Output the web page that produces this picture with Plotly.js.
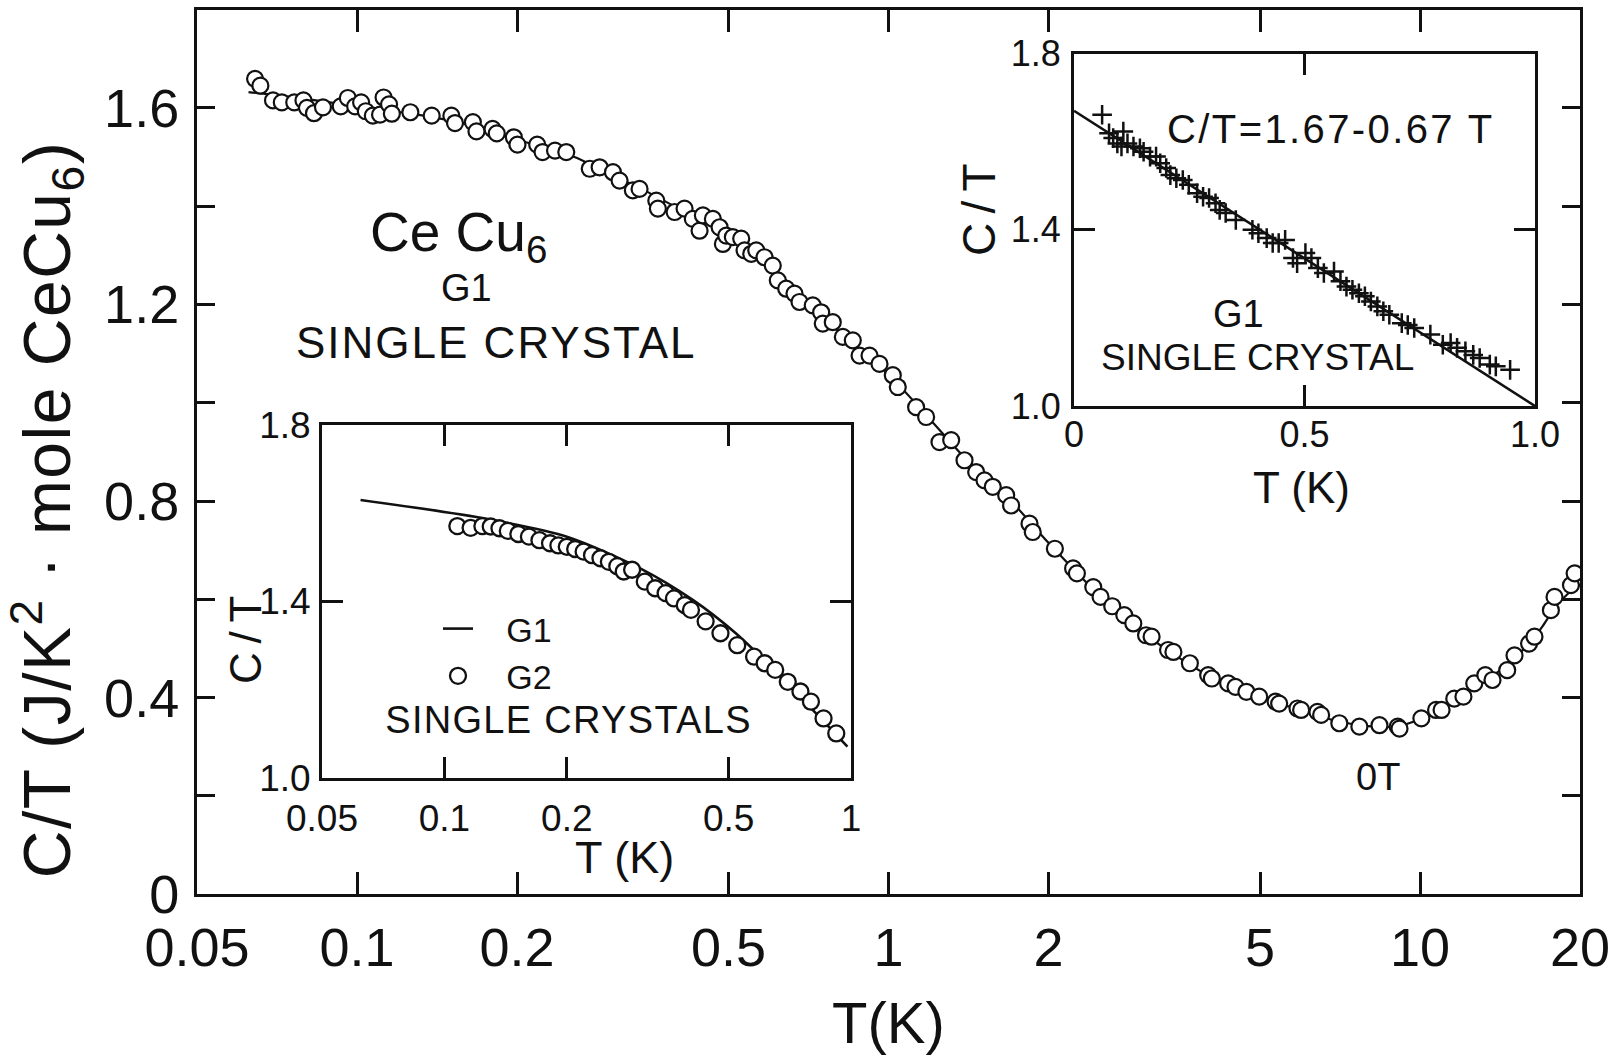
<!DOCTYPE html>
<html>
<head>
<meta charset="utf-8">
<script src="https://cdn.plot.ly/plotly-3.0.1.min.js"></script>
<style>
html,body{margin:0;padding:0;background:#fff;overflow:hidden}
g.annotation[data-index="0"] text{letter-spacing:1.5px}
g.annotation[data-index="4"] text{letter-spacing:2px}
g.annotation[data-index="7"] text{letter-spacing:1.3px}
g.annotation[data-index="10"] text{letter-spacing:2.4px}
</style>
</head>
<body>
<div id="chart" style="width:1622px;height:1061px"></div>
<script>
// ---------------- DATA ----------------
// Main panel: CeCu6 G1 single crystal, C/T vs T (log T)
const mainT = [0.0643,0.0658,0.0695,0.0722,0.0762,0.0793,0.0805,0.0830,0.0863,0.0932,0.0961,0.0992,0.1018,0.1039,0.1071,0.1105,0.1122,0.1149,0.1163,0.126,0.1382,0.1505,0.1529,0.1652,0.1678,0.1799,0.1832,0.1973,0.2004,0.2183,0.2234,0.2358,
  0.2476,0.2741,0.2861,0.3031,0.3119,0.3304,0.3401,0.3657,0.3682,0.3959,0.4133,0.4284,0.4411,0.4475,0.4673,0.4811,0.4880,0.4951,0.5095,0.5283,0.5360,0.5518,0.5639,0.5844,0.6057,0.6190,0.6420,0.6655,0.6801,0.7203,0.7470,0.7522,0.7855,0.8206,0.8567,0.8822,0.9211,0.9618,1.0188,1.041,1.127,1.177,1.247,1.312,1.390,1.462,1.516,1.571,1.665,1.701,1.842,1.868,2.056,2.225,2.262,2.428,2.506,
  2.636,2.777,2.888,3.052,3.126,3.357,3.436,3.690,3.994,4.058,4.356,4.496,4.714,4.983,5.349,5.433,5.882,5.975,6.412,6.516,7.050,7.691,8.390,9.080,9.150,10.06,10.72,10.98,11.60,12.07,12.65,13.27,13.69,14.59,15.06,16.04,16.42,17.63,17.91,19.23,19.54];
const mainCT = [1.659,1.645,1.615,1.611,1.611,1.615,1.600,1.589,1.601,1.603,1.620,1.603,1.611,1.593,1.584,1.586,1.621,1.607,1.588,1.591,1.584,1.584,1.569,1.571,1.552,1.557,1.548,1.540,1.525,1.525,1.510,1.513,
  1.510,1.476,1.479,1.469,1.452,1.432,1.435,1.411,1.395,1.388,1.395,1.374,1.350,1.381,1.374,1.357,1.323,1.340,1.337,1.334,1.310,1.303,1.310,1.296,1.279,1.249,1.232,1.222,1.205,1.198,1.184,1.161,1.164,1.134,1.127,1.096,1.096,1.079,1.056,1.032,0.991,0.971,0.920,0.924,0.883,0.859,0.842,0.829,0.812,0.791,0.754,0.737,0.703,0.663,0.653,0.625,0.605,
  0.586,0.568,0.551,0.527,0.524,0.497,0.493,0.470,0.446,0.439,0.429,0.422,0.412,0.402,0.392,0.388,0.378,0.375,0.371,0.365,0.348,0.341,0.344,0.341,0.337,0.358,0.375,0.375,0.398,0.402,0.429,0.446,0.436,0.456,0.486,0.510,0.524,0.578,0.605,0.629,0.653];
const mainLineT = [0.0625,0.08,0.1,0.13,0.16,0.2,0.25,0.3,0.35,0.4,0.45,0.5,0.6,0.7,0.8,0.9,1.0,1.2,1.4,1.7,2.0,2.5,3.0,3.5,4.0,5.0,6.0,7.0,8.0,9.0,10,11,12,13,14,15,16,17,18,19,20];
const mainLineCT = [1.632,1.618,1.603,1.586,1.567,1.535,1.505,1.465,1.430,1.397,1.370,1.338,1.280,1.205,1.148,1.100,1.058,0.965,0.885,0.800,0.715,0.607,0.534,0.483,0.445,0.401,0.374,0.352,0.342,0.341,0.356,0.378,0.403,0.432,0.452,0.480,0.508,0.545,0.585,0.612,0.630];

// Lower-left inset: G1 (line) and G2 (circles), log T
const g1T = [0.0622,0.124,0.2,0.303,0.409,0.519,0.658,0.835,0.98];
const g1CT = [1.630,1.589,1.547,1.475,1.403,1.329,1.238,1.139,1.071];
const g2T = [0.1076,0.116,0.124,0.130,0.1366,0.1432,0.152,0.1614,0.1713,0.1819,0.1907,0.2,0.2097,0.22,0.2307,0.242,0.2538,0.2662,0.2761,0.2895,0.311,0.330,0.350,0.367,0.390,0.404,0.439,0.4775,0.5251,0.5776,0.6134,0.651,0.699,0.751,0.797,0.856,0.920];
const g2CT = [1.571,1.567,1.571,1.570,1.566,1.560,1.553,1.547,1.539,1.532,1.527,1.524,1.519,1.513,1.505,1.498,1.490,1.480,1.468,1.472,1.445,1.430,1.419,1.407,1.392,1.381,1.355,1.328,1.301,1.275,1.260,1.245,1.218,1.196,1.173,1.135,1.101];

// Upper-right inset: G1 single crystal, linear T, fit C/T = 1.67 - 0.67 T
const linT = [0.061,0.076,0.085,0.094,0.103,0.107,0.116,0.129,0.143,0.151,0.165,0.178,0.187,0.200,0.209,0.222,0.236,0.249,0.267,0.280,0.293,0.307,0.316,0.329,0.351,0.387,0.400,0.418,0.431,0.444,0.458,0.475,0.484,0.502,0.515,0.529,0.542,0.564,0.578,0.591,0.604,0.618,0.631,0.644,0.658,0.671,0.684,0.711,0.724,0.738,0.773,0.800,0.817,0.831,0.849,0.866,0.880,0.902,0.915,0.946];
const linCT = [1.661,1.619,1.608,1.596,1.589,1.623,1.596,1.589,1.585,1.577,1.566,1.566,1.551,1.540,1.524,1.517,1.513,1.502,1.483,1.475,1.472,1.460,1.445,1.438,1.422,1.400,1.392,1.381,1.370,1.370,1.377,1.336,1.324,1.347,1.336,1.313,1.302,1.305,1.283,1.271,1.264,1.256,1.249,1.237,1.226,1.215,1.207,1.188,1.184,1.177,1.162,1.139,1.143,1.132,1.124,1.116,1.109,1.094,1.090,1.082];
const fitT = [0, 1.0];
const fitCT = [1.67, 1.00];

// Ticks
const mainXTicks = [0.05,0.1,0.2,0.5,1,2,5,10,20];
const mainXLabels = ['0.05','0.1','0.2','0.5','1','2','5','10','20'];
const mainYTicks = [0,0.4,0.8,1.2,1.6];
const mainYLabels = ['0','0.4','0.8','1.2','1.6'];
const mainYMinor = [0.2,0.6,1.0,1.4];
const inset1XTicks = [0.05,0.1,0.2,0.5,1];
const inset1XLabels = ['0.05','0.1','0.2','0.5','1'];
const insetYTicks = [1.0,1.4,1.8];
const insetYLabels = ['1.0','1.4','1.8'];
const inset2XTicks = [0,0.5,1.0];
const inset2XLabels = ['0','0.5','1.0'];

// ---------------- LAYOUT ----------------
const W = 1622, H = 1061;
const fx = v => v / W;          // pixel -> paper x
const fy = v => 1 - v / H;      // pixel -> paper y
const FONT = '"Liberation Sans", Arial, sans-serif';
const INK = '#111111';

function axisBase(extra) {
  return Object.assign({
    showline: true, linewidth: 3, linecolor: INK, mirror: 'ticks',
    ticks: 'inside', tickwidth: 3, tickcolor: INK,
    showgrid: false, zeroline: false, tickmode: 'array', fixedrange: true
  }, extra);
}

const traces = [
  {x: mainLineT, y: mainLineCT, xaxis: 'x', yaxis: 'y', mode: 'lines', showlegend: false,
   line: {color: INK, width: 2.2, shape: 'spline', smoothing: 0.8}},
  {x: mainT, y: mainCT, xaxis: 'x', yaxis: 'y', mode: 'markers', showlegend: false,
   marker: {symbol: 'circle', size: 16, color: 'white', line: {color: INK, width: 2.2}}},
  {x: g1T, y: g1CT, xaxis: 'x2', yaxis: 'y2', mode: 'lines', name: '\u00a0\u00a0\u00a0G1', showlegend: true,
   line: {color: INK, width: 2.6, shape: 'spline', smoothing: 0.8}},
  {x: g2T, y: g2CT, xaxis: 'x2', yaxis: 'y2', mode: 'markers', name: '\u00a0\u00a0\u00a0G2', showlegend: true,
   marker: {symbol: 'circle', size: 16, color: 'white', line: {color: INK, width: 2.3}}},
  {x: fitT, y: fitCT, xaxis: 'x3', yaxis: 'y3', mode: 'lines', showlegend: false,
   line: {color: INK, width: 2.6}},
  {x: linT, y: linCT, xaxis: 'x3', yaxis: 'y3', mode: 'markers', showlegend: false,
   marker: {symbol: 'cross-thin-open', size: 14, color: INK, line: {color: INK, width: 2.5}}}
];

function ann(text, x, y, size, extra) {
  return Object.assign({text: text, x: fx(x), y: fy(y), xref: 'paper', yref: 'paper',
    xanchor: 'center', yanchor: 'middle', showarrow: false,
    font: {family: FONT, size: size, color: INK}}, extra || {});
}

const layout = {
  width: W, height: H,
  margin: {l: 0, r: 0, t: 0, b: 0, pad: 0},
  paper_bgcolor: 'white', plot_bgcolor: 'white',
  font: {family: FONT, color: INK},
  xaxis: axisBase({type: 'log', domain: [fx(197), fx(1580)], anchor: 'y',
    range: [Math.log10(0.05), Math.log10(20)], ticklen: 22,
    tickvals: mainXTicks, ticktext: mainXLabels, ticklabelstandoff: 4,
    tickfont: {family: FONT, size: 54, color: INK}}),
  yaxis: axisBase({domain: [fy(894.3), fy(9.5)], anchor: 'x', range: [0, 1.8], ticklen: 18,
    tickvals: mainYTicks, ticktext: mainYLabels, ticklabelstandoff: 4,
    minor: {tickvals: mainYMinor, ticks: 'inside', ticklen: 18, tickwidth: 3, tickcolor: INK, showgrid: false},
    tickfont: {family: FONT, size: 54, color: INK}}),
  xaxis2: axisBase({type: 'log', domain: [fx(322), fx(851)], anchor: 'y2',
    range: [Math.log10(0.05), 0], ticklen: 21,
    tickvals: inset1XTicks, ticktext: inset1XLabels, ticklabelstandoff: 6,
    tickfont: {family: FONT, size: 37, color: INK}}),
  yaxis2: axisBase({domain: [fy(778), fy(425)], anchor: 'x2', range: [1.0, 1.8], ticklen: 21,
    tickvals: insetYTicks, ticktext: insetYLabels, ticklabelstandoff: 1,
    tickfont: {family: FONT, size: 37, color: INK}}),
  xaxis3: axisBase({domain: [fx(1074), fx(1535)], anchor: 'y3', range: [0, 1.0], ticklen: 21,
    tickvals: inset2XTicks, ticktext: inset2XLabels, ticklabelstandoff: -5,
    tickfont: {family: FONT, size: 36, color: INK}}),
  yaxis3: axisBase({domain: [fy(406), fy(53.5)], anchor: 'x3', range: [1.0, 1.8], ticklen: 21,
    tickvals: insetYTicks, ticktext: insetYLabels, ticklabelstandoff: 3,
    tickfont: {family: FONT, size: 36, color: INK}}),
  showlegend: true,
  legend: {x: fx(438), y: fy(600), xanchor: 'left', yanchor: 'top',
    bgcolor: 'rgba(0,0,0,0)', borderwidth: 0, itemsizing: 'trace',
    font: {family: FONT, size: 34, color: INK}, tracegroupgap: 0},
  annotations: [
    ann('C/T (J/K<sup>2</sup> \u00b7 mole CeCu<sub>6</sub>)', 47, 510, 66, {textangle: -90}),
    ann('T(K)', 888, 1022, 58),
    ann('Ce Cu<sub>6</sub>', 458, 236, 55),
    ann('G1', 466, 288, 38),
    ann('SINGLE CRYSTAL', 496, 343, 44),
    ann('C\u2009/\u2009T', 245, 640, 44, {textangle: -90}),
    ann('T (K)', 624, 857, 45),
    ann('SINGLE CRYSTALS', 568, 720, 38),
    ann('C\u2009/\u2009T', 979, 210, 46, {textangle: -90}),
    ann('T (K)', 1301, 487, 44),
    ann('C/T=1.67-0.67 T', 1331, 129, 40),
    ann('G1', 1238, 314, 38),
    ann('SINGLE CRYSTAL', 1257, 357, 37),
    ann('0T', 1378, 777, 38)
  ]
};

Plotly.newPlot('chart', traces, layout, {staticPlot: true, displayModeBar: false});
</script>
</body>
</html>
